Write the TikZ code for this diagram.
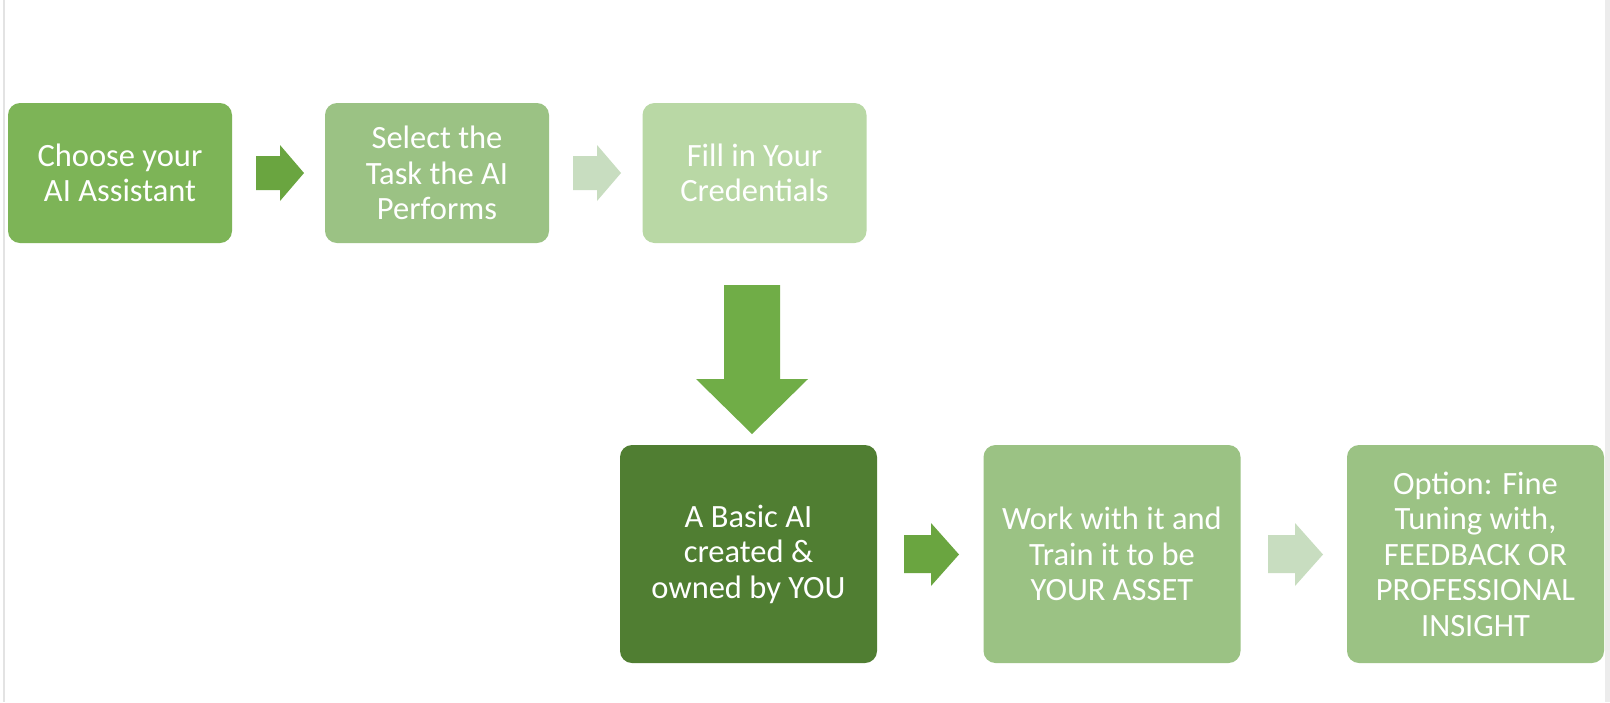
\documentclass[tikz,border=0pt]{standalone}
\usepackage{fontspec}
\setmainfont{Carlito}
\definecolor{gA}{HTML}{7DB457}
\definecolor{gB}{HTML}{9BC284}
\definecolor{gC}{HTML}{B9D8A5}
\definecolor{gD}{HTML}{507E32}
\definecolor{arDark}{HTML}{6AA540}
\definecolor{arLight}{HTML}{C8DDC0}
\definecolor{arDown}{HTML}{70AD47}
\begin{document}
\begin{tikzpicture}[x=1pt,y=-1pt,
  box/.style={rounded corners=12pt, align=center, text=white, inner sep=0pt,
     font=\fontsize{32.5}{35.5}\selectfont},
  small/.style={box, minimum width=224pt, minimum height=140pt},
  big/.style={box, minimum width=257pt, minimum height=218pt}]
\useasboundingbox (0,0) rectangle (1610,702);
\fill[white] (0,0) rectangle (1610,702);
\fill[gray!22] (2.5,0) rectangle (5,702);
\fill[gray!15] (1605,0) rectangle (1610,702);
\node[small, fill=gA] (b1) at (120,173) {Choose your\\AI Assistant};
\node[small, fill=gB] (b2) at (437,173) {Select the\\Task the AI\\Performs};
\node[small, fill=gC] (b3) at (754.5,173) {Fill in Your\\Credentials};
\node[big, fill=gD] (b4) at (748.5,554) {A Basic AI\\created \&\\owned by YOU};
\node[big, fill=gB] (b5) at (1112,554) {Work with it and\\Train it to be\\YOUR ASSET};
\node[big, fill=gB] (b6) at (1475.5,554) {Option: Fine\\Tuning with,\\FEEDBACK OR\\PROFESSIONAL\\INSIGHT};
% block arrows
\fill[arDark] (256,156) -- (280,156) -- (280,145) -- (304,173) -- (280,201) -- (280,190) -- (256,190) -- cycle;
\fill[arLight] (573,156) -- (597,156) -- (597,145) -- (621,173) -- (597,201) -- (597,190) -- (573,190) -- cycle;
\fill[arDown] (724,285) -- (780,285) -- (780,379) -- (808,379) -- (752,434) -- (696,379) -- (724,379) -- cycle;
\fill[arDark] (904,535) -- (931,535) -- (931,523) -- (959,554.5) -- (931,586) -- (931,573) -- (904,573) -- cycle;
\fill[arLight] (1268,535) -- (1295,535) -- (1295,523) -- (1323,554.5) -- (1295,586) -- (1295,573) -- (1268,573) -- cycle;
\end{tikzpicture}
\end{document}
